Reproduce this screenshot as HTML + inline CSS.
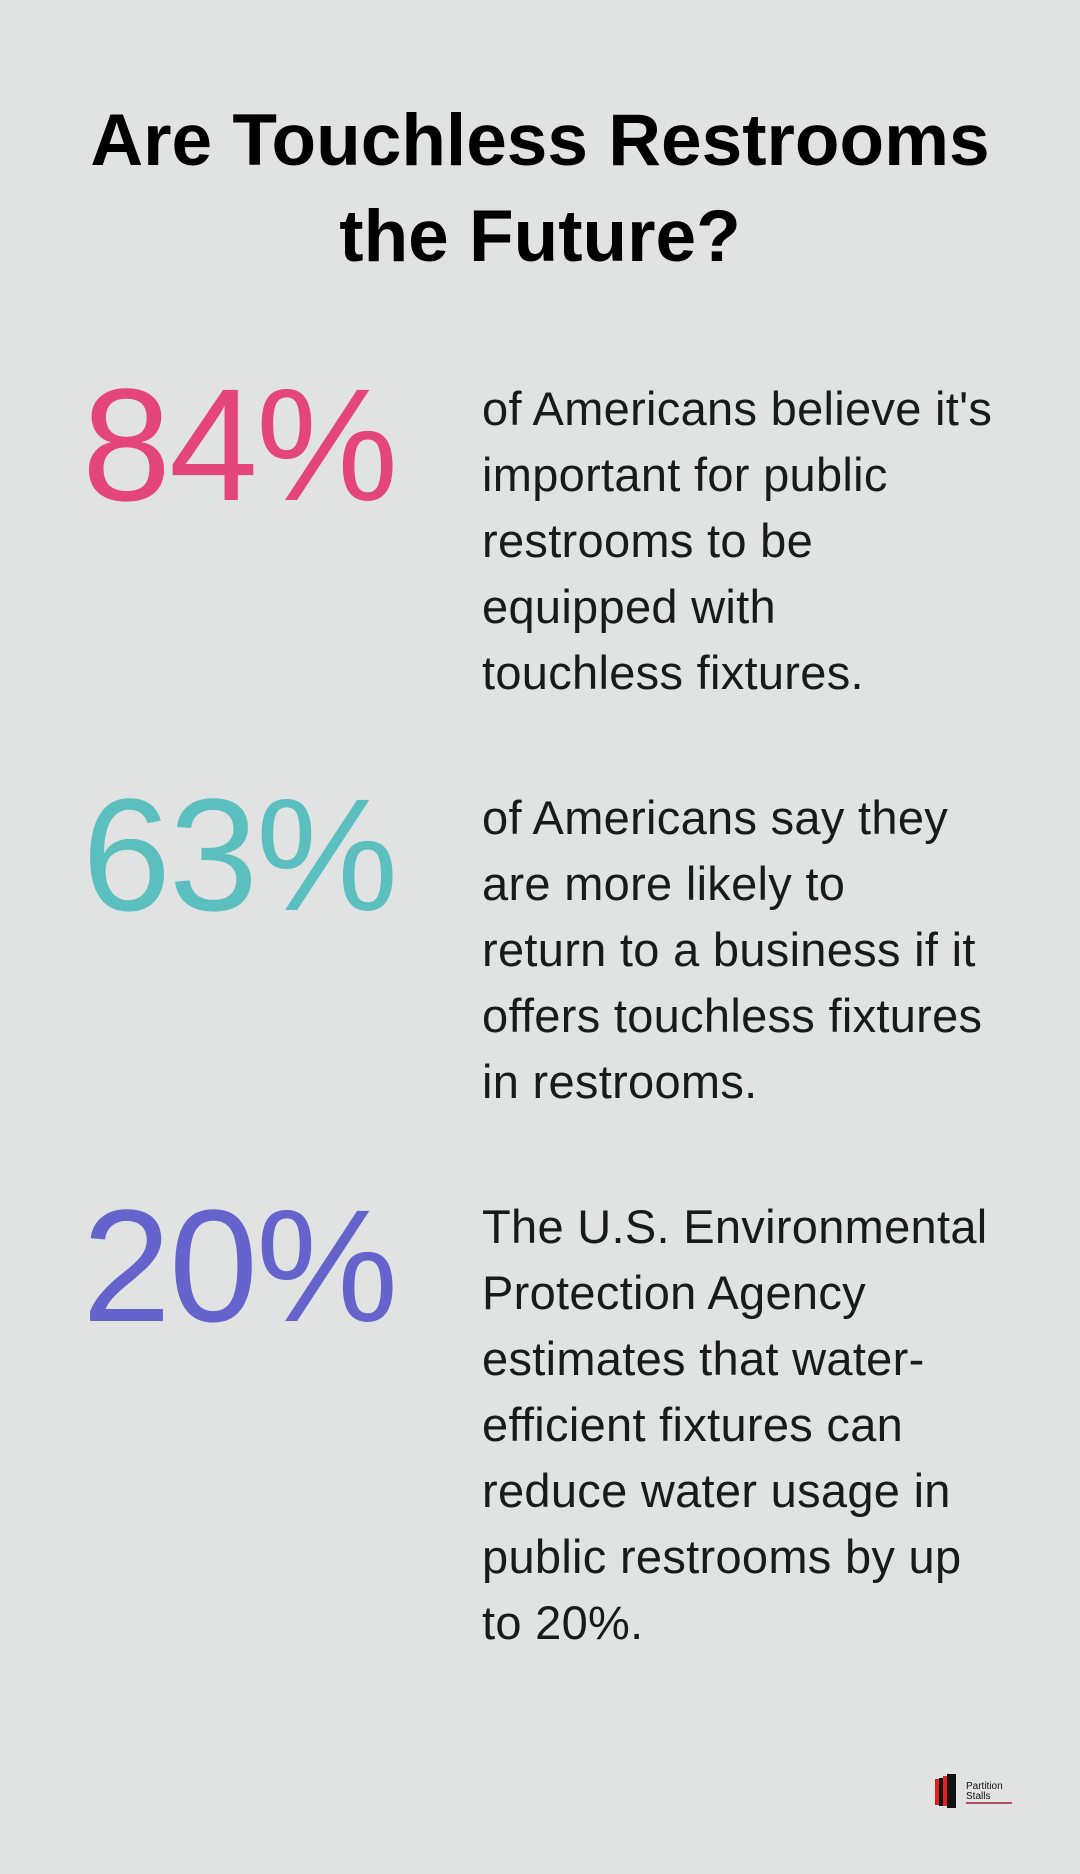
<!DOCTYPE html>
<html><head><meta charset="utf-8"><style>
body{margin:0;background:#e1e3e2;}
#page{position:relative;width:1080px;height:1874px;background:#e1e3e2;overflow:hidden;font-family:"Liberation Sans",sans-serif;}
.title{position:absolute;left:0;top:93px;width:1080px;text-align:center;font-weight:bold;font-size:73px;line-height:96px;color:#000;}
.num{position:absolute;left:82px;font-size:160px;line-height:158px;white-space:nowrap;letter-spacing:-2px;}
.txt{position:absolute;left:482px;font-size:47px;line-height:66px;color:#1a1a1a;white-space:nowrap;letter-spacing:0.3px;}
</style></head><body>
<div id="page">
<div class="title">Are Touchless Restrooms<br>the Future?</div>

<div class="num" style="top:366px;color:#e4457a">84%</div>
<div class="txt" style="top:376px">of Americans believe it's<br>important for public<br>restrooms to be<br>equipped with<br>touchless fixtures.</div>

<div class="num" style="top:776px;color:#5bbfbf">63%</div>
<div class="txt" style="top:785px">of Americans say they<br>are more likely to<br>return to a business if it<br>offers touchless fixtures<br>in restrooms.</div>

<div class="num" style="top:1187px;color:#6464cc">20%</div>
<div class="txt" style="top:1194px">The U.S. Environmental<br>Protection Agency<br>estimates that water-<br>efficient fixtures can<br>reduce water usage in<br>public restrooms by up<br>to 20%.</div>

<div style="position:absolute;left:934px;top:1772px;width:84px;height:38px;">
<svg width="84" height="38" viewBox="0 0 84 38">
<rect x="1" y="7" width="4" height="26" fill="#e02020"/>
<rect x="5" y="6" width="4" height="28" fill="#111"/>
<rect x="9" y="4" width="4" height="30" fill="#e02020"/>
<rect x="13" y="2" width="9" height="34" fill="#111"/>
<text x="32" y="17" font-family="Liberation Sans" font-size="10" fill="#111">Partition</text>
<text x="32" y="27" font-family="Liberation Sans" font-size="10" fill="#111">Stalls</text>
<rect x="32" y="30" width="46" height="2" fill="#b05060"/>
</svg></div>
</div>
</body></html>
